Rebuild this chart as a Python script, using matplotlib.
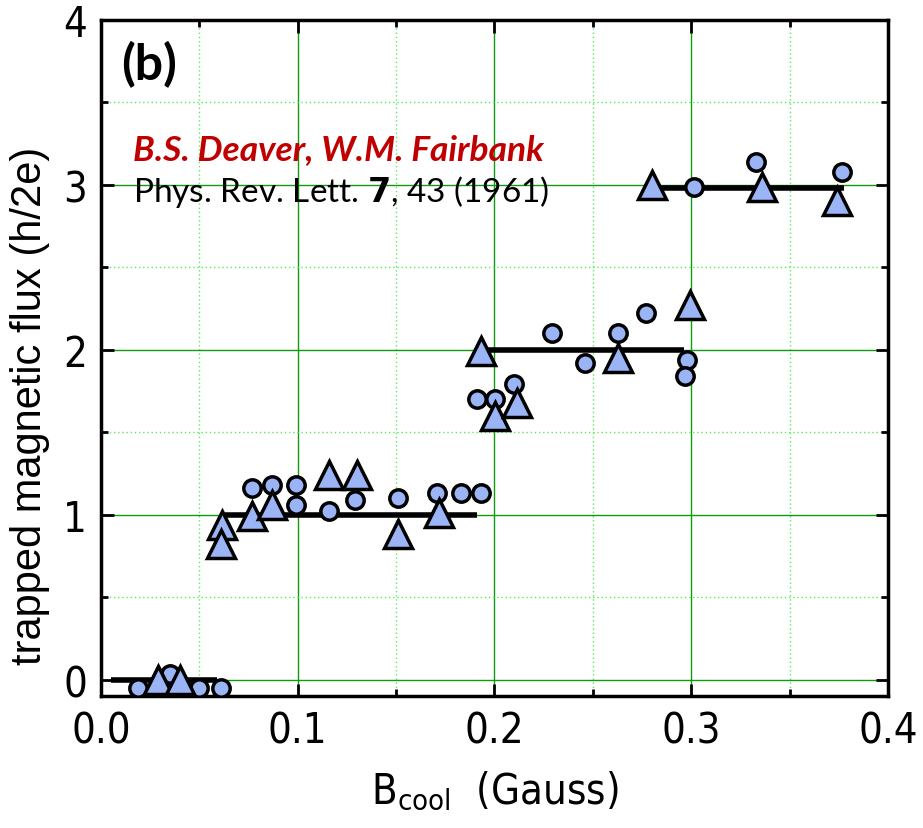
import matplotlib.pyplot as plt
from matplotlib.ticker import MultipleLocator

# circles (data set 1)
circ_x = [0.019, 0.035, 0.050, 0.061, 0.077, 0.087, 0.099, 0.099, 0.116, 0.129,
          0.151, 0.171, 0.183, 0.193, 0.191, 0.2005, 0.210, 0.229, 0.246, 0.263,
          0.277, 0.298, 0.297, 0.3015, 0.333, 0.3765]
circ_y = [-0.05, 0.035, -0.05, -0.05, 1.16, 1.18, 1.18, 1.06, 1.02, 1.09,
          1.10, 1.13, 1.13, 1.13, 1.70, 1.70, 1.79, 2.10, 1.92, 2.10,
          2.22, 1.94, 1.84, 2.985, 3.14, 3.08]

# triangles (data set 2)
tri_x = [0.029, 0.040, 0.0616, 0.061, 0.077, 0.087, 0.116, 0.130, 0.151, 0.172,
         0.193, 0.2005, 0.2115, 0.263, 0.2993, 0.280, 0.336, 0.374]
tri_y = [0.0, 0.0, 0.94, 0.82, 0.99, 1.06, 1.24, 1.24, 0.88, 1.01,
         1.99, 1.60, 1.68, 1.95, 2.27, 3.0, 2.99, 2.905]

# quantised levels (h/2e)
step_start = [0.005, 0.063, 0.195, 0.277]
step_end = [0.059, 0.191, 0.2964, 0.3777]
step_level = [0.0, 1.0, 2.0, 2.98]

cond = dict(family='DejaVu Sans', stretch='condensed')

fig = plt.figure(figsize=(9.23, 8.29), dpi=100)
ax = fig.add_axes([0.1094, 0.1592, 0.8526, 0.8155])

ax.set_xlim(0, 0.4)
ax.set_ylim(-0.1, 4)

ax.xaxis.set_minor_locator(MultipleLocator(0.05))
ax.yaxis.set_minor_locator(MultipleLocator(0.5))

ax.grid(which='major', color='#119911', lw=1.0, ls='-', zorder=0)
ax.grid(which='minor', color='#55ee55', lw=1.0, ls=(0, (1, 2)), zorder=0)
ax.set_axisbelow(True)

for a, b, lev in zip(step_start, step_end, step_level):
    ax.plot([a, b], [lev, lev], color='black', lw=4, zorder=2, solid_capstyle='butt')

ax.plot(circ_x, circ_y, 'o', ms=12.5, mfc='#9ab4f6', mec='black', mew=2.5, zorder=3)
ax.plot(tri_x, tri_y, '^', ms=20, mfc='#9ab4f6', mec='black', mew=2.5, zorder=3)

ax.tick_params(which='both', direction='in', top=True, right=True, width=2)
ax.tick_params(which='major', length=9, labelsize=30, pad=10)
ax.tick_params(which='minor', length=5)
ax.set_xticks([0.0, 0.1, 0.2, 0.3, 0.4])
ax.set_xticklabels(['0.0', '0.1', '0.2', '0.3', '0.4'], **cond)
ax.set_yticks([0, 1, 2, 3, 4])
ax.set_yticklabels(['0', '1', '2', '3', '4'], **cond)

for s in ax.spines.values():
    s.set_linewidth(2.5)

ax.set_ylabel('trapped magnetic flux (h/2e)', fontsize=30, family=['Liberation Sans', 'DejaVu Sans'])
ax.yaxis.set_label_coords(-0.065, 0.43)
ax.set_xlabel(r'B$_{\mathregular{cool}}$  (Gauss)', fontsize=30, labelpad=12, **cond)

ax.text(0.026, 0.97, '(b)', transform=ax.transAxes, fontsize=36, fontweight='bold',
        family=['Lato', 'DejaVu Sans'], va='top', ha='left')
ax.text(0.041, 0.809, 'B.S. Deaver, W.M. Fairbank', transform=ax.transAxes, fontsize=25.5,
        fontweight='bold', style='italic', color='#c00000', family=['Lato', 'DejaVu Sans'],
        va='center', ha='left')
ax.text(0.041, 0.747, r'Phys. Rev. Lett. $\mathbf{7}$, 43 (1961)', transform=ax.transAxes,
        fontsize=24, family=['Lato', 'DejaVu Sans'], va='center', ha='left')

fig.savefig('out.png', dpi=100)
